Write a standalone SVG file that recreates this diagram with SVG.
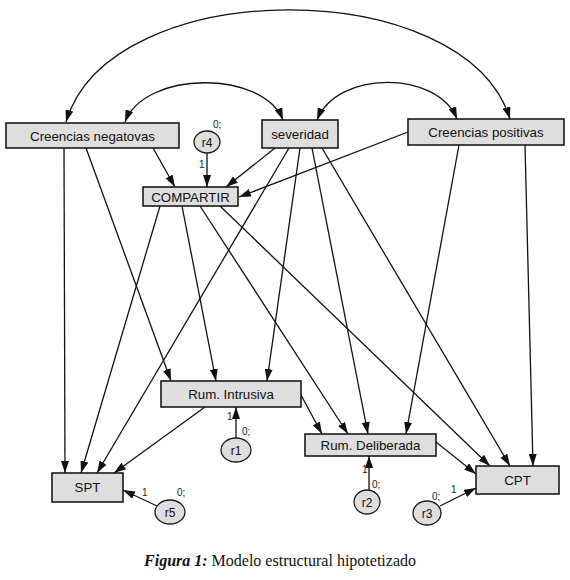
<svg xmlns="http://www.w3.org/2000/svg" width="570" height="580" viewBox="0 0 570 580">
<style>
.box{fill:#dedede;stroke:#1a1a1a;stroke-width:1.6}
.ell{fill:#dedede;stroke:#1a1a1a;stroke-width:1.3}
.t{font-family:"Liberation Sans",Arial,sans-serif;font-size:13.3px;fill:#111;text-anchor:middle}
.r{font-size:12px}
.s{font-family:"Liberation Sans",Arial,sans-serif;font-size:10px;fill:#222}
.e{fill:none;stroke:#111;stroke-width:1.3;marker-end:url(#ah)}
.c{fill:none;stroke:#111;stroke-width:1.3;marker-end:url(#ah);marker-start:url(#ahs)}
</style>
<defs>
<marker id="ah" viewBox="0 0 12 8" refX="12" refY="4" markerWidth="12" markerHeight="8" markerUnits="userSpaceOnUse" orient="auto"><path d="M0,0 L12,4 L0,8 Z" fill="#111"/></marker>
<marker id="ahs" viewBox="0 0 12 8" refX="12" refY="4" markerWidth="12" markerHeight="8" markerUnits="userSpaceOnUse" orient="auto-start-reverse"><path d="M0,0 L12,4 L0,8 Z" fill="#111"/></marker>
</defs>
<rect width="570" height="580" fill="#fff"/>
<g id="connectors">
<path class="c" d="M66 122 C110 -27 465 -27 510 119"/>
<path class="c" d="M125 122 C145 70 263 70 283 120"/>
<path class="c" d="M317 120 C337 70 437 70 457 119"/>
<line class="e" x1="64" y1="148" x2="65" y2="473"/>
<line class="e" x1="86" y1="148" x2="171" y2="381"/>
<line class="e" x1="153" y1="148" x2="175" y2="187"/>
<line class="e" x1="275" y1="148" x2="226" y2="187"/>
<line class="e" x1="289" y1="148" x2="97" y2="473"/>
<line class="e" x1="300" y1="148" x2="267" y2="381"/>
<line class="e" x1="312" y1="148" x2="368" y2="434"/>
<line class="e" x1="322" y1="148" x2="510" y2="466"/>
<line class="e" x1="408" y1="132" x2="239" y2="197"/>
<line class="e" x1="459" y1="145" x2="406" y2="434"/>
<line class="e" x1="525" y1="145" x2="533" y2="466"/>
<line class="e" x1="160" y1="206" x2="81" y2="473"/>
<line class="e" x1="182" y1="206" x2="216" y2="381"/>
<line class="e" x1="200" y1="206" x2="348" y2="434"/>
<line class="e" x1="220" y1="206" x2="490" y2="466"/>
<line class="e" x1="205" y1="407" x2="114" y2="473"/>
<line class="e" x1="301" y1="395" x2="322" y2="434"/>
<line class="e" x1="436" y1="442" x2="476" y2="474"/>
<line class="e" x1="207" y1="153" x2="207" y2="187"/>
<line class="e" x1="236" y1="438" x2="236" y2="407"/>
<line class="e" x1="369" y1="490" x2="369" y2="456"/>
<line class="e" x1="440" y1="506" x2="476" y2="488"/>
<line class="e" x1="157" y1="506" x2="123" y2="490"/>
</g>
<g id="creencias-negatovas"><rect class="box" x="6" y="123" width="173" height="25"/><text class="t" x="92.5" y="140.5">Creencias negatovas</text></g>
<g id="severidad"><rect class="box" x="262" y="120" width="76" height="28"/><text class="t" x="300" y="139">severidad</text></g>
<g id="creencias-positivas"><rect class="box" x="408" y="119" width="156" height="26"/><text class="t" x="486" y="136.5">Creencias positivas</text></g>
<g id="compartir"><rect class="box" x="143" y="187" width="95" height="19"/><text class="t" x="190.5" y="201.5">COMPARTIR</text></g>
<g id="r4"><ellipse class="ell" cx="207" cy="142" rx="13" ry="11"/><text class="t r" x="207" y="146.5">r4</text><text class="s" x="213" y="128">0;</text><text class="s" x="199" y="168">1</text></g>
<g id="rum-intrusiva"><rect class="box" x="161" y="381" width="140" height="26"/><text class="t" x="231" y="398.5">Rum. Intrusiva</text></g>
<g id="r1"><ellipse class="ell" cx="236" cy="450" rx="15" ry="12"/><text class="t r" x="236" y="454.5">r1</text><text class="s" x="227" y="420">1</text><text class="s" x="242" y="435">0;</text></g>
<g id="rum-deliberada"><rect class="box" x="305" y="434" width="131" height="22"/><text class="t" x="370.5" y="449.5">Rum. Deliberada</text></g>
<g id="r2"><ellipse class="ell" cx="367" cy="502" rx="13" ry="12"/><text class="t r" x="367" y="506.5">r2</text><text class="s" x="362" y="473">1</text><text class="s" x="372" y="488">0;</text></g>
<g id="cpt"><rect class="box" x="476" y="466" width="83" height="28"/><text class="t" x="517.5" y="485">CPT</text></g>
<g id="r3"><ellipse class="ell" cx="427" cy="513" rx="14" ry="12"/><text class="t r" x="427" y="517.5">r3</text><text class="s" x="432" y="500">0;</text><text class="s" x="451" y="493">1</text></g>
<g id="spt"><rect class="box" x="52" y="473" width="71" height="29"/><text class="t" x="87.5" y="492">SPT</text></g>
<g id="r5"><ellipse class="ell" cx="170" cy="512" rx="15" ry="12"/><text class="t r" x="170" y="516.5">r5</text><text class="s" x="142" y="496">1</text><text class="s" x="177" y="496">0;</text></g>
<text x="280" y="566" style="font-family:'Liberation Serif','Times New Roman',serif;font-size:16px;fill:#111;text-anchor:middle"><tspan font-weight="bold" font-style="italic">Figura 1:</tspan> Modelo estructural hipotetizado</text>
</svg>
